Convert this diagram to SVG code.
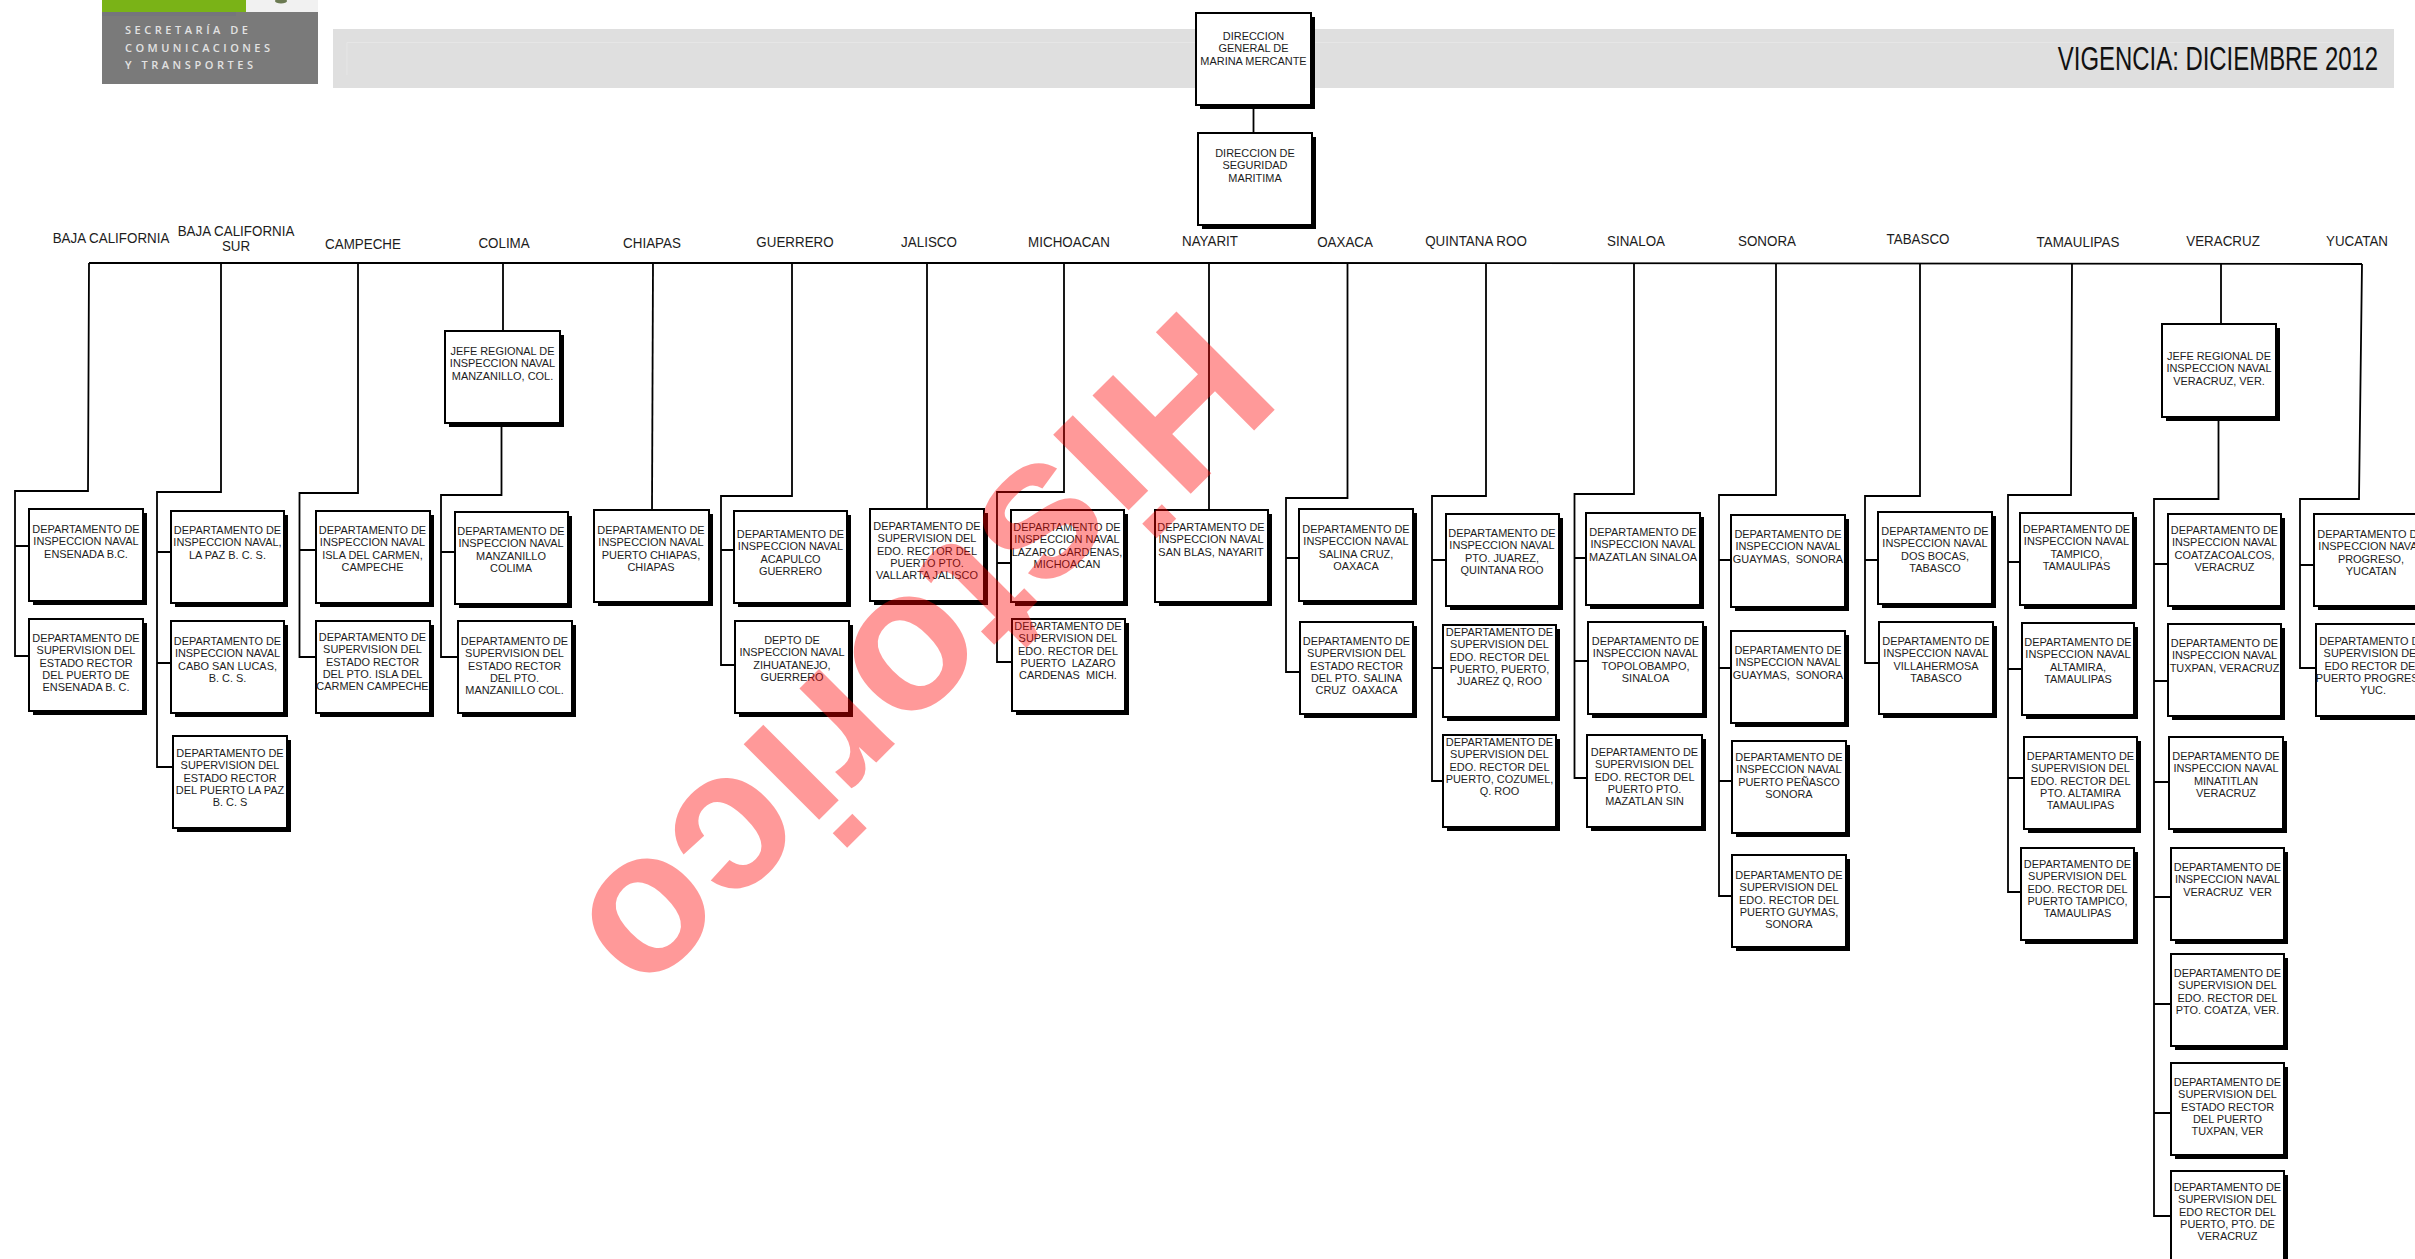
<svg xmlns="http://www.w3.org/2000/svg" width="2415" height="1259" viewBox="0 0 2415 1259">
<style>
text{font-family:"Liberation Sans",Arial,sans-serif;fill:#1c1c1c}
.t{font-size:11.4px;text-anchor:middle;transform-box:fill-box;transform-origin:center;transform:scaleX(.96)}
.l{font-size:14.4px;text-anchor:middle;transform-box:fill-box;transform-origin:center;transform:scaleX(.93)}
.title{font-size:33px;text-anchor:middle;transform-box:fill-box;transform-origin:center;transform:scaleX(.725);fill:#111}
.s{fill:#000}
.b{fill:#fff;stroke:#000;stroke-width:2}
.c path{fill:none;stroke:#000;stroke-width:1.8}
.logo{font-family:"Open Sans","Noto Sans",sans-serif;font-size:11px;font-weight:600;fill:#e2e2e2}
.wm{font-size:202px;font-weight:bold;fill:#f00;fill-opacity:.4}
</style>
<g id="logo">
<rect x="102" y="0" width="216" height="84" fill="#7a7a7a"/>
<rect x="102" y="0" width="144" height="12" fill="#7ab317"/>
<rect x="246" y="0" width="72" height="12" fill="#f1f1f1"/>
<rect x="102" y="12" width="134" height="4" fill="#75757c"/>
<ellipse cx="281" cy="1" rx="6" ry="2.5" fill="#6b7a52"/>
<text class="logo" x="125" y="34" textLength="123" lengthAdjust="spacing">SECRETARÍA DE</text>
<text class="logo" x="125" y="52" textLength="145" lengthAdjust="spacing">COMUNICACIONES</text>
<text class="logo" x="125" y="69" textLength="128" lengthAdjust="spacing">Y TRANSPORTES</text>
</g>
<g id="banner">
<rect x="333" y="29" width="2061" height="59" fill="#dfdfdf"/>
<path d="M347 75V42.500H2378" fill="none" stroke="#e6e6e6" stroke-width="1"/>
<text class="title" x="2218" y="70">VIGENCIA: DICIEMBRE 2012</text>
</g>
<g id="state-labels">
<text class="l" x="111" y="243">BAJA CALIFORNIA</text>
<text class="l" y="236"><tspan x="236">BAJA CALIFORNIA</tspan><tspan x="236" dy="15">SUR</tspan></text>
<text class="l" x="363" y="249">CAMPECHE</text>
<text class="l" x="504" y="248">COLIMA</text>
<text class="l" x="652" y="248">CHIAPAS</text>
<text class="l" x="795" y="247">GUERRERO</text>
<text class="l" x="929" y="247">JALISCO</text>
<text class="l" x="1069" y="247">MICHOACAN</text>
<text class="l" x="1210" y="246">NAYARIT</text>
<text class="l" x="1345" y="247">OAXACA</text>
<text class="l" x="1476" y="246">QUINTANA ROO</text>
<text class="l" x="1636" y="246">SINALOA</text>
<text class="l" x="1767" y="246">SONORA</text>
<text class="l" x="1918" y="244">TABASCO</text>
<text class="l" x="2078" y="247">TAMAULIPAS</text>
<text class="l" x="2223" y="246">VERACRUZ</text>
<text class="l" x="2357" y="246">YUCATAN</text>
</g>
<g id="connectors" class="c">
<path d="M1253.500 105V133"/>
<path d="M89 263H1300L2362 264"/>
<path d="M89 263L88 491H15V656H29M15 546H29"/>
<path d="M221 263V492H157V767H173M157 552H171M157 663H171"/>
<path d="M358 263V493H299.500V657H316M299.500 550H316"/>
<path d="M503 263V331M501.500 423V495H441V657H458M441 552H455"/>
<path d="M653 263L652 510"/>
<path d="M792 263V496H721V665H735M721 550H734"/>
<path d="M927 263V509"/>
<path d="M1064 263V492H997V662H1012M997 563H1011"/>
<path d="M1209 263V510"/>
<path d="M1347.500 263V498H1286V672H1300M1286 558H1299"/>
<path d="M1486 264V496H1432V781H1443M1432 560H1446M1432 668H1443"/>
<path d="M1634 264V494H1574.500V778H1587M1574.500 558H1586M1574.500 661H1588"/>
<path d="M1776 264V495H1719V896H1732M1719 560H1731M1719 668H1731M1719 781H1732"/>
<path d="M1920 264V496H1865V663H1879M1865 560H1878"/>
<path d="M2072 264L2071 495H2008V892H2021M2008 562H2020M2008 669H2022M2008 778H2024"/>
<path d="M2221 264V324M2218.500 417V499H2154V1216H2171M2154 564H2168M2154 681H2168M2154 782H2169M2154 897H2171M2154 1004H2171M2154 1113H2171"/>
<path d="M2362 264L2359 499H2300V668H2316M2300 565H2314"/>
</g>
<g id="dg"><rect class="s" x="1200" y="17" width="115" height="92"/><rect class="b" x="1196" y="13" width="115" height="92"/><text class="t" y="40"><tspan x="1253.500">DIRECCION</tspan><tspan x="1253.500" dy="12.300">GENERAL DE</tspan><tspan x="1253.500" dy="12.300">MARINA MERCANTE</tspan></text></g>
<g id="ds"><rect class="s" x="1202" y="137" width="114" height="92"/><rect class="b" x="1198" y="133" width="114" height="92"/><text class="t" y="157"><tspan x="1255">DIRECCION DE</tspan><tspan x="1255" dy="12.300">SEGURIDAD</tspan><tspan x="1255" dy="12.300">MARITIMA</tspan></text></g>
<g id="jefe-col"><rect class="s" x="449" y="335" width="115" height="92"/><rect class="b" x="445" y="331" width="115" height="92"/><text class="t" y="355"><tspan x="502.500">JEFE REGIONAL DE</tspan><tspan x="502.500" dy="12.300">INSPECCION NAVAL</tspan><tspan x="502.500" dy="12.300">MANZANILLO, COL.</tspan></text></g>
<g id="jefe-ver"><rect class="s" x="2166" y="328" width="114" height="93"/><rect class="b" x="2162" y="324" width="114" height="93"/><text class="t" y="360"><tspan x="2219">JEFE REGIONAL DE</tspan><tspan x="2219" dy="12.300">INSPECCION NAVAL</tspan><tspan x="2219" dy="12.300">VERACRUZ, VER.</tspan></text></g>
<g id="bc1"><rect class="s" x="33" y="513" width="114" height="92"/><rect class="b" x="29" y="509" width="114" height="92"/><text class="t" y="533"><tspan x="86">DEPARTAMENTO DE</tspan><tspan x="86" dy="12.300">INSPECCION NAVAL</tspan><tspan x="86" dy="12.300">ENSENADA B.C.</tspan></text></g>
<g id="bc2"><rect class="s" x="33" y="623" width="114" height="92"/><rect class="b" x="29" y="619" width="114" height="92"/><text class="t" y="642"><tspan x="86">DEPARTAMENTO DE</tspan><tspan x="86" dy="12.300">SUPERVISION DEL</tspan><tspan x="86" dy="12.300">ESTADO RECTOR</tspan><tspan x="86" dy="12.300">DEL PUERTO DE</tspan><tspan x="86" dy="12.300">ENSENADA B. C.</tspan></text></g>
<g id="bcs1"><rect class="s" x="175" y="515" width="113" height="92"/><rect class="b" x="171" y="511" width="113" height="92"/><text class="t" y="534"><tspan x="227.500">DEPARTAMENTO DE</tspan><tspan x="227.500" dy="12.300">INSPECCION NAVAL,</tspan><tspan x="227.500" dy="12.300">LA PAZ B. C. S.</tspan></text></g>
<g id="bcs2"><rect class="s" x="175" y="625" width="113" height="92"/><rect class="b" x="171" y="621" width="113" height="92"/><text class="t" y="645"><tspan x="227.500">DEPARTAMENTO DE</tspan><tspan x="227.500" dy="12.300">INSPECCION NAVAL</tspan><tspan x="227.500" dy="12.300">CABO SAN LUCAS,</tspan><tspan x="227.500" dy="12.300">B. C. S.</tspan></text></g>
<g id="bcs3"><rect class="s" x="177" y="740" width="114" height="92"/><rect class="b" x="173" y="736" width="114" height="92"/><text class="t" y="757"><tspan x="230">DEPARTAMENTO DE</tspan><tspan x="230" dy="12.300">SUPERVISION DEL</tspan><tspan x="230" dy="12.300">ESTADO RECTOR</tspan><tspan x="230" dy="12.300">DEL PUERTO LA PAZ</tspan><tspan x="230" dy="12.300">B. C. S</tspan></text></g>
<g id="cam1"><rect class="s" x="320" y="515" width="114" height="92"/><rect class="b" x="316" y="511" width="114" height="92"/><text class="t" y="534"><tspan x="372.500">DEPARTAMENTO DE</tspan><tspan x="372.500" dy="12.300">INSPECCION NAVAL</tspan><tspan x="372.500" dy="12.300">ISLA DEL CARMEN,</tspan><tspan x="372.500" dy="12.300">CAMPECHE</tspan></text></g>
<g id="cam2"><rect class="s" x="320" y="625" width="114" height="92"/><rect class="b" x="316" y="621" width="114" height="92"/><text class="t" y="641"><tspan x="372.500">DEPARTAMENTO DE</tspan><tspan x="372.500" dy="12.300">SUPERVISION DEL</tspan><tspan x="372.500" dy="12.300">ESTADO RECTOR</tspan><tspan x="372.500" dy="12.300">DEL PTO. ISLA DEL</tspan><tspan x="372.500" dy="12.300">CARMEN CAMPECHE</tspan></text></g>
<g id="col1"><rect class="s" x="459" y="516" width="113" height="92"/><rect class="b" x="455" y="512" width="113" height="92"/><text class="t" y="535"><tspan x="511">DEPARTAMENTO DE</tspan><tspan x="511" dy="12.300">INSPECCION NAVAL</tspan><tspan x="511" dy="12.300">MANZANILLO</tspan><tspan x="511" dy="12.300">COLIMA</tspan></text></g>
<g id="col2"><rect class="s" x="462" y="625" width="114" height="92"/><rect class="b" x="458" y="621" width="114" height="92"/><text class="t" y="645"><tspan x="514.500">DEPARTAMENTO DE</tspan><tspan x="514.500" dy="12.300">SUPERVISION DEL</tspan><tspan x="514.500" dy="12.300">ESTADO RECTOR</tspan><tspan x="514.500" dy="12.300">DEL PTO.</tspan><tspan x="514.500" dy="12.300">MANZANILLO COL.</tspan></text></g>
<g id="chi1"><rect class="s" x="598" y="514" width="115" height="92"/><rect class="b" x="594" y="510" width="115" height="92"/><text class="t" y="534"><tspan x="651">DEPARTAMENTO DE</tspan><tspan x="651" dy="12.300">INSPECCION NAVAL</tspan><tspan x="651" dy="12.300">PUERTO CHIAPAS,</tspan><tspan x="651" dy="12.300">CHIAPAS</tspan></text></g>
<g id="gro1"><rect class="s" x="738" y="515" width="113" height="92"/><rect class="b" x="734" y="511" width="113" height="92"/><text class="t" y="538"><tspan x="790.500">DEPARTAMENTO DE</tspan><tspan x="790.500" dy="12.300">INSPECCION NAVAL</tspan><tspan x="790.500" dy="12.300">ACAPULCO</tspan><tspan x="790.500" dy="12.300">GUERRERO</tspan></text></g>
<g id="gro2"><rect class="s" x="739" y="625" width="114" height="92"/><rect class="b" x="735" y="621" width="114" height="92"/><text class="t" y="644"><tspan x="792">DEPTO DE</tspan><tspan x="792" dy="12.300">INSPECCION NAVAL</tspan><tspan x="792" dy="12.300">ZIHUATANEJO,</tspan><tspan x="792" dy="12.300">GUERRERO</tspan></text></g>
<g id="jal1"><rect class="s" x="874" y="513" width="114" height="92"/><rect class="b" x="870" y="509" width="114" height="92"/><text class="t" y="530"><tspan x="927">DEPARTAMENTO DE</tspan><tspan x="927" dy="12.300">SUPERVISION DEL</tspan><tspan x="927" dy="12.300">EDO. RECTOR DEL</tspan><tspan x="927" dy="12.300">PUERTO PTO.</tspan><tspan x="927" dy="12.300">VALLARTA JALISCO</tspan></text></g>
<g id="mic1"><rect class="s" x="1015" y="514" width="113" height="92"/><rect class="b" x="1011" y="510" width="113" height="92"/><text class="t" y="531"><tspan x="1067">DEPARTAMENTO DE</tspan><tspan x="1067" dy="12.300">INSPECCION NAVAL</tspan><tspan x="1067" dy="12.300">LAZARO CARDENAS,</tspan><tspan x="1067" dy="12.300">MICHOACAN</tspan></text></g>
<g id="mic2"><rect class="s" x="1016" y="623" width="113" height="92"/><rect class="b" x="1012" y="619" width="113" height="92"/><text class="t" y="630"><tspan x="1068">DEPARTAMENTO DE</tspan><tspan x="1068" dy="12.300">SUPERVISION DEL</tspan><tspan x="1068" dy="12.300">EDO. RECTOR DEL</tspan><tspan x="1068" dy="12.300" xml:space="preserve">PUERTO  LAZARO</tspan><tspan x="1068" dy="12.300" xml:space="preserve">CARDENAS  MICH.</tspan></text></g>
<g id="nay1"><rect class="s" x="1159" y="514" width="113" height="92"/><rect class="b" x="1155" y="510" width="113" height="92"/><text class="t" y="531"><tspan x="1211">DEPARTAMENTO DE</tspan><tspan x="1211" dy="12.300">INSPECCION NAVAL</tspan><tspan x="1211" dy="12.300">SAN BLAS, NAYARIT</tspan></text></g>
<g id="oax1"><rect class="s" x="1303" y="513" width="114" height="92"/><rect class="b" x="1299" y="509" width="114" height="92"/><text class="t" y="533"><tspan x="1356">DEPARTAMENTO DE</tspan><tspan x="1356" dy="12.300">INSPECCION NAVAL</tspan><tspan x="1356" dy="12.300">SALINA CRUZ,</tspan><tspan x="1356" dy="12.300">OAXACA</tspan></text></g>
<g id="oax2"><rect class="s" x="1304" y="626" width="113" height="92"/><rect class="b" x="1300" y="622" width="113" height="92"/><text class="t" y="645"><tspan x="1356.500">DEPARTAMENTO DE</tspan><tspan x="1356.500" dy="12.300">SUPERVISION DEL</tspan><tspan x="1356.500" dy="12.300">ESTADO RECTOR</tspan><tspan x="1356.500" dy="12.300">DEL PTO. SALINA</tspan><tspan x="1356.500" dy="12.300" xml:space="preserve">CRUZ  OAXACA</tspan></text></g>
<g id="qr1"><rect class="s" x="1450" y="518" width="113" height="92"/><rect class="b" x="1446" y="514" width="113" height="92"/><text class="t" y="537"><tspan x="1502">DEPARTAMENTO DE</tspan><tspan x="1502" dy="12.300">INSPECCION NAVAL</tspan><tspan x="1502" dy="12.300">PTO. JUAREZ,</tspan><tspan x="1502" dy="12.300">QUINTANA ROO</tspan></text></g>
<g id="qr2"><rect class="s" x="1447" y="629" width="113" height="92"/><rect class="b" x="1443" y="625" width="113" height="92"/><text class="t" y="636"><tspan x="1499.500">DEPARTAMENTO DE</tspan><tspan x="1499.500" dy="12.300">SUPERVISION DEL</tspan><tspan x="1499.500" dy="12.300">EDO. RECTOR DEL</tspan><tspan x="1499.500" dy="12.300">PUERTO, PUERTO,</tspan><tspan x="1499.500" dy="12.300">JUAREZ Q, ROO</tspan></text></g>
<g id="qr3"><rect class="s" x="1447" y="739" width="113" height="92"/><rect class="b" x="1443" y="735" width="113" height="92"/><text class="t" y="746"><tspan x="1499.500">DEPARTAMENTO DE</tspan><tspan x="1499.500" dy="12.300">SUPERVISION DEL</tspan><tspan x="1499.500" dy="12.300">EDO. RECTOR DEL</tspan><tspan x="1499.500" dy="12.300">PUERTO, COZUMEL,</tspan><tspan x="1499.500" dy="12.300">Q. ROO</tspan></text></g>
<g id="sin1"><rect class="s" x="1590" y="517" width="114" height="92"/><rect class="b" x="1586" y="513" width="114" height="92"/><text class="t" y="536"><tspan x="1643">DEPARTAMENTO DE</tspan><tspan x="1643" dy="12.300">INSPECCION NAVAL</tspan><tspan x="1643" dy="12.300">MAZATLAN SINALOA</tspan></text></g>
<g id="sin2"><rect class="s" x="1592" y="626" width="115" height="92"/><rect class="b" x="1588" y="622" width="115" height="92"/><text class="t" y="645"><tspan x="1645.500">DEPARTAMENTO DE</tspan><tspan x="1645.500" dy="12.300">INSPECCION NAVAL</tspan><tspan x="1645.500" dy="12.300">TOPOLOBAMPO,</tspan><tspan x="1645.500" dy="12.300">SINALOA</tspan></text></g>
<g id="sin3"><rect class="s" x="1591" y="739" width="115" height="92"/><rect class="b" x="1587" y="735" width="115" height="92"/><text class="t" y="756"><tspan x="1644.500">DEPARTAMENTO DE</tspan><tspan x="1644.500" dy="12.300">SUPERVISION DEL</tspan><tspan x="1644.500" dy="12.300">EDO. RECTOR DEL</tspan><tspan x="1644.500" dy="12.300">PUERTO PTO.</tspan><tspan x="1644.500" dy="12.300">MAZATLAN SIN</tspan></text></g>
<g id="son1"><rect class="s" x="1735" y="519" width="114" height="92"/><rect class="b" x="1731" y="515" width="114" height="92"/><text class="t" y="538"><tspan x="1788">DEPARTAMENTO DE</tspan><tspan x="1788" dy="12.300">INSPECCION NAVAL</tspan><tspan x="1788" dy="12.300" xml:space="preserve">GUAYMAS,  SONORA</tspan></text></g>
<g id="son2"><rect class="s" x="1735" y="635" width="114" height="92"/><rect class="b" x="1731" y="631" width="114" height="92"/><text class="t" y="654"><tspan x="1788">DEPARTAMENTO DE</tspan><tspan x="1788" dy="12.300">INSPECCION NAVAL</tspan><tspan x="1788" dy="12.300" xml:space="preserve">GUAYMAS,  SONORA</tspan></text></g>
<g id="son3"><rect class="s" x="1736" y="745" width="114" height="92"/><rect class="b" x="1732" y="741" width="114" height="92"/><text class="t" y="761"><tspan x="1789">DEPARTAMENTO DE</tspan><tspan x="1789" dy="12.300">INSPECCION NAVAL</tspan><tspan x="1789" dy="12.300">PUERTO PEÑASCO</tspan><tspan x="1789" dy="12.300">SONORA</tspan></text></g>
<g id="son4"><rect class="s" x="1736" y="859" width="114" height="92"/><rect class="b" x="1732" y="855" width="114" height="92"/><text class="t" y="879"><tspan x="1789">DEPARTAMENTO DE</tspan><tspan x="1789" dy="12.300">SUPERVISION DEL</tspan><tspan x="1789" dy="12.300">EDO. RECTOR DEL</tspan><tspan x="1789" dy="12.300">PUERTO GUYMAS,</tspan><tspan x="1789" dy="12.300">SONORA</tspan></text></g>
<g id="tab1"><rect class="s" x="1882" y="516" width="114" height="92"/><rect class="b" x="1878" y="512" width="114" height="92"/><text class="t" y="535"><tspan x="1935">DEPARTAMENTO DE</tspan><tspan x="1935" dy="12.300">INSPECCION NAVAL</tspan><tspan x="1935" dy="12.300">DOS BOCAS,</tspan><tspan x="1935" dy="12.300">TABASCO</tspan></text></g>
<g id="tab2"><rect class="s" x="1883" y="626" width="114" height="92"/><rect class="b" x="1879" y="622" width="114" height="92"/><text class="t" y="645"><tspan x="1936">DEPARTAMENTO DE</tspan><tspan x="1936" dy="12.300">INSPECCION NAVAL</tspan><tspan x="1936" dy="12.300">VILLAHERMOSA</tspan><tspan x="1936" dy="12.300">TABASCO</tspan></text></g>
<g id="tam1"><rect class="s" x="2024" y="517" width="113" height="92"/><rect class="b" x="2020" y="513" width="113" height="92"/><text class="t" y="533"><tspan x="2076.500">DEPARTAMENTO DE</tspan><tspan x="2076.500" dy="12.300">INSPECCION NAVAL</tspan><tspan x="2076.500" dy="12.300">TAMPICO,</tspan><tspan x="2076.500" dy="12.300">TAMAULIPAS</tspan></text></g>
<g id="tam2"><rect class="s" x="2026" y="627" width="112" height="92"/><rect class="b" x="2022" y="623" width="112" height="92"/><text class="t" y="646"><tspan x="2078">DEPARTAMENTO DE</tspan><tspan x="2078" dy="12.300">INSPECCION NAVAL</tspan><tspan x="2078" dy="12.300">ALTAMIRA,</tspan><tspan x="2078" dy="12.300">TAMAULIPAS</tspan></text></g>
<g id="tam3"><rect class="s" x="2028" y="741" width="113" height="92"/><rect class="b" x="2024" y="737" width="113" height="92"/><text class="t" y="760"><tspan x="2080.500">DEPARTAMENTO DE</tspan><tspan x="2080.500" dy="12.300">SUPERVISION DEL</tspan><tspan x="2080.500" dy="12.300">EDO. RECTOR DEL</tspan><tspan x="2080.500" dy="12.300">PTO. ALTAMIRA</tspan><tspan x="2080.500" dy="12.300">TAMAULIPAS</tspan></text></g>
<g id="tam4"><rect class="s" x="2025" y="852" width="113" height="92"/><rect class="b" x="2021" y="848" width="113" height="92"/><text class="t" y="868"><tspan x="2077.500">DEPARTAMENTO DE</tspan><tspan x="2077.500" dy="12.300">SUPERVISION DEL</tspan><tspan x="2077.500" dy="12.300">EDO. RECTOR DEL</tspan><tspan x="2077.500" dy="12.300">PUERTO TAMPICO,</tspan><tspan x="2077.500" dy="12.300">TAMAULIPAS</tspan></text></g>
<g id="ver1"><rect class="s" x="2172" y="518" width="113" height="92"/><rect class="b" x="2168" y="514" width="113" height="92"/><text class="t" y="534"><tspan x="2224.500">DEPARTAMENTO DE</tspan><tspan x="2224.500" dy="12.300">INSPECCION NAVAL</tspan><tspan x="2224.500" dy="12.300">COATZACOALCOS,</tspan><tspan x="2224.500" dy="12.300">VERACRUZ</tspan></text></g>
<g id="ver2"><rect class="s" x="2172" y="628" width="113" height="92"/><rect class="b" x="2168" y="624" width="113" height="92"/><text class="t" y="647"><tspan x="2224.500">DEPARTAMENTO DE</tspan><tspan x="2224.500" dy="12.300">INSPECCION NAVAL</tspan><tspan x="2224.500" dy="12.300">TUXPAN, VERACRUZ</tspan></text></g>
<g id="ver3"><rect class="s" x="2173" y="741" width="114" height="92"/><rect class="b" x="2169" y="737" width="114" height="92"/><text class="t" y="760"><tspan x="2226">DEPARTAMENTO DE</tspan><tspan x="2226" dy="12.300">INSPECCION NAVAL</tspan><tspan x="2226" dy="12.300">MINATITLAN</tspan><tspan x="2226" dy="12.300">VERACRUZ</tspan></text></g>
<g id="ver4"><rect class="s" x="2175" y="852" width="113" height="92"/><rect class="b" x="2171" y="848" width="113" height="92"/><text class="t" y="871"><tspan x="2227.500">DEPARTAMENTO DE</tspan><tspan x="2227.500" dy="12.300">INSPECCION NAVAL</tspan><tspan x="2227.500" dy="12.300" xml:space="preserve">VERACRUZ  VER</tspan></text></g>
<g id="ver5"><rect class="s" x="2175" y="958" width="113" height="92"/><rect class="b" x="2171" y="954" width="113" height="92"/><text class="t" y="977"><tspan x="2227.500">DEPARTAMENTO DE</tspan><tspan x="2227.500" dy="12.300">SUPERVISION DEL</tspan><tspan x="2227.500" dy="12.300">EDO. RECTOR DEL</tspan><tspan x="2227.500" dy="12.300">PTO. COATZA, VER.</tspan></text></g>
<g id="ver6"><rect class="s" x="2175" y="1067" width="113" height="92"/><rect class="b" x="2171" y="1063" width="113" height="92"/><text class="t" y="1086"><tspan x="2227.500">DEPARTAMENTO DE</tspan><tspan x="2227.500" dy="12.300">SUPERVISION DEL</tspan><tspan x="2227.500" dy="12.300">ESTADO RECTOR</tspan><tspan x="2227.500" dy="12.300">DEL PUERTO</tspan><tspan x="2227.500" dy="12.300">TUXPAN, VER</tspan></text></g>
<g id="ver7"><rect class="s" x="2175" y="1175" width="113" height="92"/><rect class="b" x="2171" y="1171" width="113" height="92"/><text class="t" y="1191"><tspan x="2227.500">DEPARTAMENTO DE</tspan><tspan x="2227.500" dy="12.300">SUPERVISION DEL</tspan><tspan x="2227.500" dy="12.300">EDO RECTOR DEL</tspan><tspan x="2227.500" dy="12.300">PUERTO, PTO. DE</tspan><tspan x="2227.500" dy="12.300">VERACRUZ</tspan></text></g>
<g id="yuc1"><rect class="s" x="2318" y="518" width="114" height="92"/><rect class="b" x="2314" y="514" width="114" height="92"/><text class="t" y="538"><tspan x="2371">DEPARTAMENTO DE</tspan><tspan x="2371" dy="12.300">INSPECCION NAVAL</tspan><tspan x="2371" dy="12.300">PROGRESO,</tspan><tspan x="2371" dy="12.300">YUCATAN</tspan></text></g>
<g id="yuc2"><rect class="s" x="2320" y="628" width="114" height="92"/><rect class="b" x="2316" y="624" width="114" height="92"/><text class="t" y="645"><tspan x="2373">DEPARTAMENTO DE</tspan><tspan x="2373" dy="12.300">SUPERVISION DEL</tspan><tspan x="2373" dy="12.300">EDO RECTOR DEL</tspan><tspan x="2373" dy="12.300">PUERTO PROGRESO,</tspan><tspan x="2373" dy="12.300">YUC.</tspan></text></g>
<text class="wm" transform="translate(1186 302) rotate(135)">Historico</text>
</svg>
